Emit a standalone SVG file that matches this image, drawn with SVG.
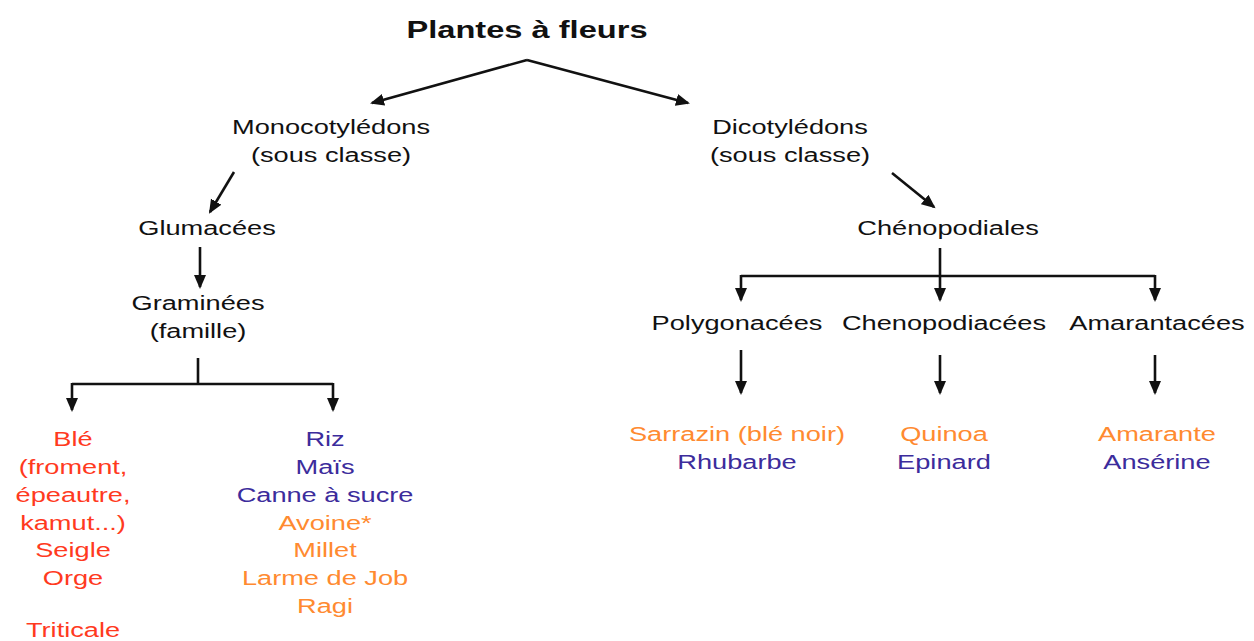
<svg xmlns="http://www.w3.org/2000/svg" width="1254" height="641" viewBox="0 0 1254 641">
<defs>
<marker id="ah" markerUnits="userSpaceOnUse" markerWidth="15" markerHeight="13" refX="12" refY="6" orient="auto">
<path d="M0,0 L14,6 L0,12 z" fill="#111"/>
</marker>
<style>
text{font-family:"Liberation Sans",Arial,sans-serif;font-size:20px;text-anchor:middle;fill:#111}
.t{font-size:24px;font-weight:bold}
.r{fill:#ff3a1e}
.o{fill:#ff8a30}
.b{fill:#3c2c9c}
.c{fill:none;stroke:#111;stroke-width:2.6}
.a{marker-end:url(#ah)}
</style>
</defs>
<rect width="1254" height="641" fill="#fff"/>
<g id="connectors">
<path class="c a" d="M527,60 L372,103"/>
<path class="c a" d="M527,60 L688,103"/>
<path class="c a" d="M234,172 L210,212"/>
<path class="c a" d="M200,247 L200,287"/>
<path class="c" d="M198,358 L198,384 M72,384 L333,384"/>
<path class="c a" d="M72,383 L72,410"/>
<path class="c a" d="M333,383 L333,410"/>
<path class="c a" d="M892,173 L934,207"/>
<path class="c a" d="M940,248 L940,300"/>
<path class="c" d="M741,276 L1155,276"/>
<path class="c a" d="M741,275 L741,300"/>
<path class="c a" d="M1155,275 L1155,300"/>
<path class="c a" d="M741,350 L741,393"/>
<path class="c a" d="M940,355 L940,393"/>
<path class="c a" d="M1155,355 L1155,393"/>
</g>
<g transform="scale(1.36 1)">
<g id="root"><text class="t" x="387.5" y="38">Plantes à fleurs</text></g>
<g id="mono"><text x="243.4" y="134">Monocotylédons</text><text x="243.4" y="162">(sous classe)</text></g>
<g id="dico"><text x="580.9" y="134">Dicotylédons</text><text x="580.9" y="162">(sous classe)</text></g>
<g id="glumacees"><text x="152.2" y="235">Glumacées</text></g>
<g id="graminees"><text x="145.6" y="310">Graminées</text><text x="145.6" y="338">(famille)</text></g>
<g id="ble">
<text class="r" x="53.7" y="446">Blé</text>
<text class="r" x="53.7" y="474">(froment,</text>
<text class="r" x="53.7" y="502">épeautre,</text>
<text class="r" x="53.7" y="530">kamut...)</text>
<text class="r" x="53.7" y="557">Seigle</text>
<text class="r" x="53.7" y="585">Orge</text>
<text class="r" x="53.7" y="637">Triticale</text>
</g>
<g id="riz">
<text class="b" x="239" y="446">Riz</text>
<text class="b" x="239" y="474">Maïs</text>
<text class="b" x="239" y="502">Canne à sucre</text>
<text class="o" x="239" y="530">Avoine*</text>
<text class="o" x="239" y="557">Millet</text>
<text class="o" x="239" y="585">Larme de Job</text>
<text class="o" x="239" y="613">Ragi</text>
</g>
<g id="chenopodiales"><text x="697.1" y="235">Chénopodiales</text></g>
<g id="polygonacees"><text x="541.9" y="330">Polygonacées</text></g>
<g id="chenopodiacees"><text x="694.1" y="330">Chenopodiacées</text></g>
<g id="amarantacees"><text x="850.7" y="330">Amarantacées</text></g>
<g id="poly-ex"><text class="o" x="541.9" y="441">Sarrazin (blé noir)</text><text class="b" x="541.9" y="469">Rhubarbe</text></g>
<g id="cheno-ex"><text class="o" x="694.1" y="441">Quinoa</text><text class="b" x="694.1" y="469">Epinard</text></g>
<g id="amar-ex"><text class="o" x="850.7" y="441">Amarante</text><text class="b" x="850.7" y="469">Ansérine</text></g>
</g>
</svg>
